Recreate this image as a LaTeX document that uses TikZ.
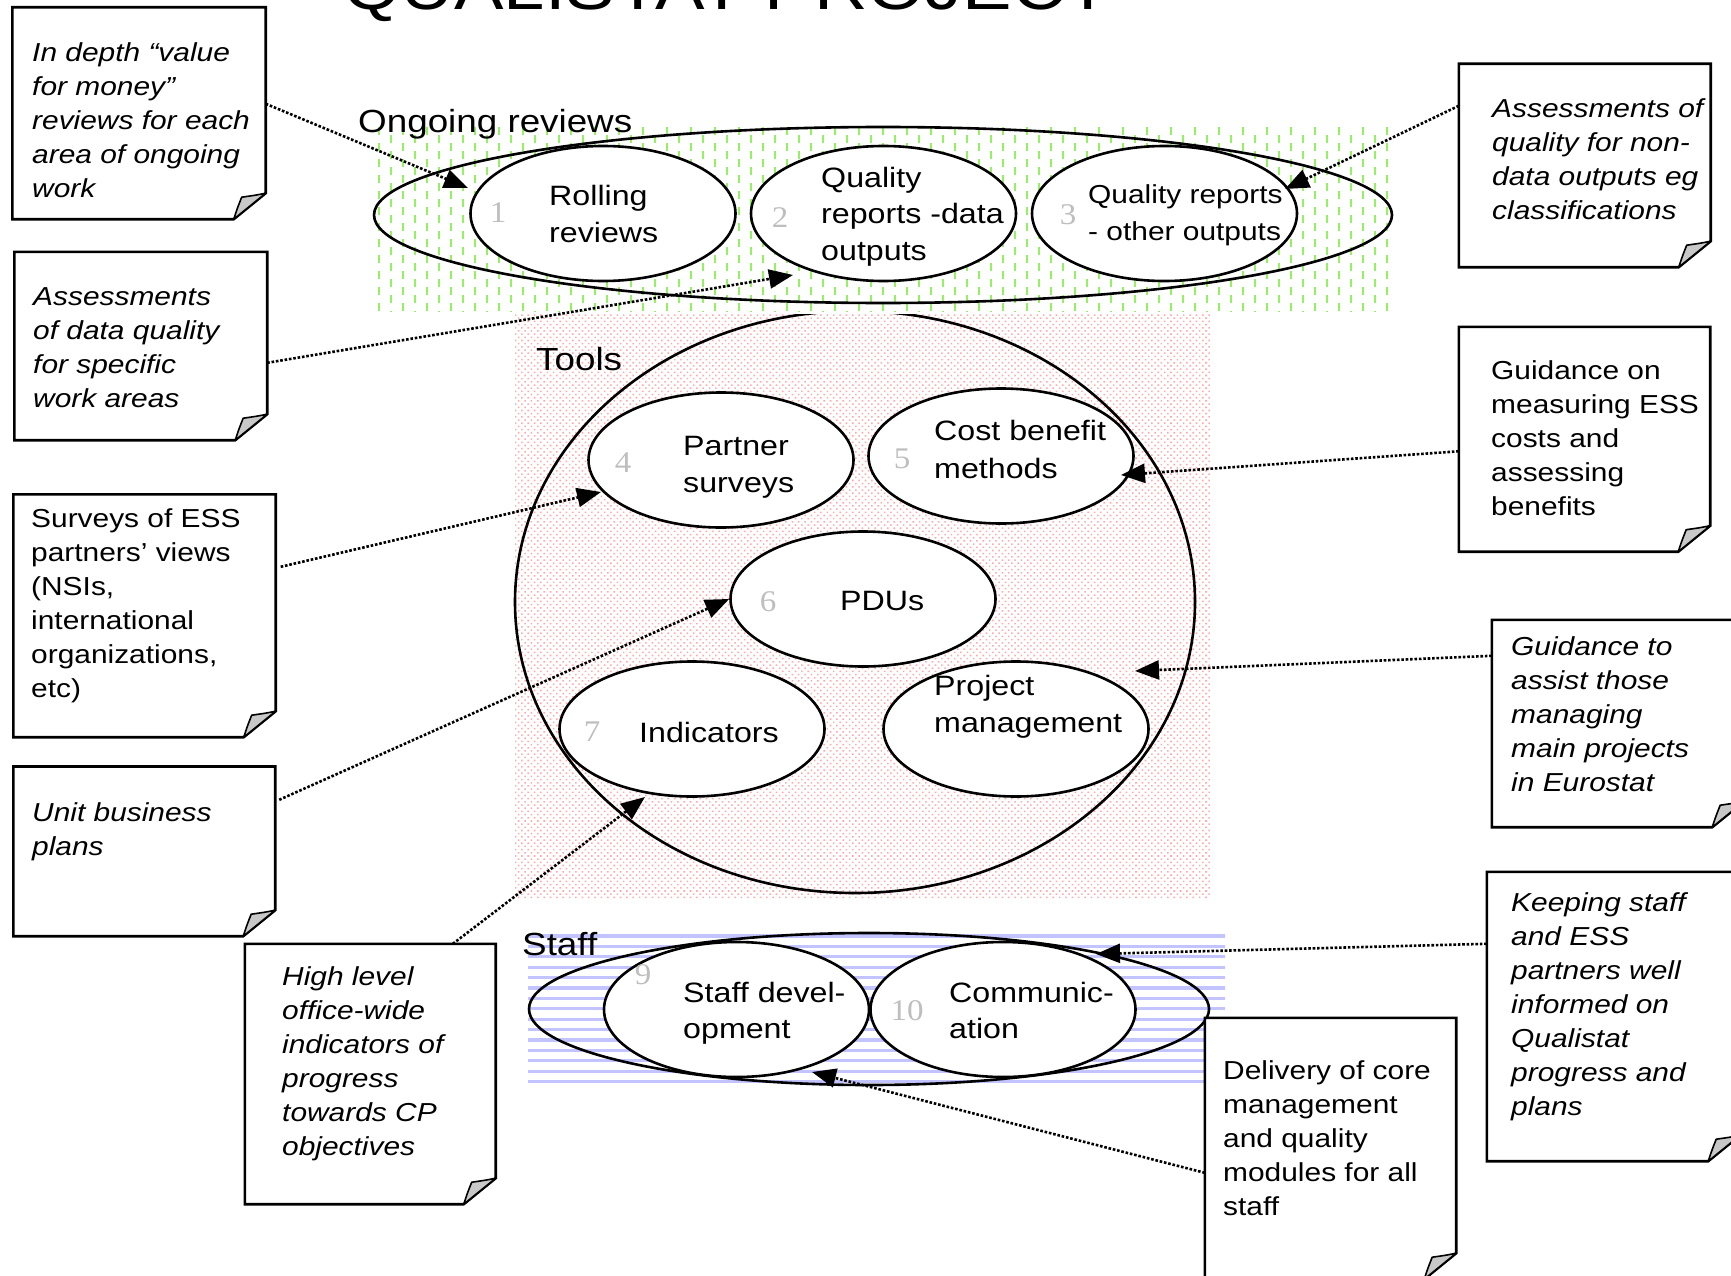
\documentclass[tikz,border=0pt]{standalone}
\usepackage{fontspec}
\setmainfont{Liberation Sans}[FakeStretch=1.15]
\newfontfamily\numfont{Liberation Serif}[FakeStretch=1.1]
\usetikzlibrary{shapes.geometric,arrows.meta,fit,patterns.meta}
\definecolor{hatchgreen}{RGB}{150,240,100}
\definecolor{dotpink}{RGB}{255,170,170}
\definecolor{stripeblue}{RGB}{195,195,255}
\definecolor{numgrey}{RGB}{190,190,190}
\definecolor{foldgrey}{RGB}{200,200,200}
\newcommand\topstrut[1]{\rule{0pt}{#1}}
\newcommand\notebox[5]{%
  \node[boxframe, fit={(#2,#3) (#4,#5)}] (#1) {};
  \path[boxline] (#1.north west) -- (#1.north east) -- ([yshift=26pt]#1.south east)
     -- ([xshift=-32pt]#1.south east) -- (#1.south west) -- cycle;
  \path[foldline] ([xshift=-32pt]#1.south east) -- ([yshift=26pt]#1.south east)
     .. controls ([shift={(-10pt,24pt)}]#1.south east) .. ([shift={(-24pt,22pt)}]#1.south east)
     .. controls ([shift={(-28pt,12pt)}]#1.south east) .. ([xshift=-32pt]#1.south east) -- cycle;
}
\begin{document}
\begin{tikzpicture}[x=1pt,y=-1pt,
  bubble/.style={ellipse, draw, line width=2.6pt, fill=white, minimum width=265pt, minimum height=135pt, inner sep=0pt},
  outline/.style={ellipse, draw, line width=2.6pt, inner sep=0pt},
  boxframe/.style={inner sep=0pt, draw=none},
  boxline/.style={draw, fill=white, line width=2.6pt, line join=miter},
  foldline/.style={draw, fill=foldgrey, line width=1.6pt, line join=round},
  conn/.style={line width=2.6pt, dash pattern=on 2.6pt off 1.8pt, -{Triangle[length=24pt,width=19pt]}},
  boxtext/.style={anchor=north west, inner sep=0pt, align=left, font=\fontsize{26}{34}\selectfont},
  boxit/.style={boxtext, font=\fontsize{26}{34}\selectfont\itshape},
  etext/.style={anchor=north west, inner sep=0pt, align=left, font=\fontsize{28}{37}\selectfont},
  num/.style={inner sep=0pt, text=numgrey, font=\numfont\fontsize{30}{30}\selectfont},
  regionlabel/.style={anchor=base west, inner sep=0pt, font=\fontsize{32}{36}\selectfont},
  greendash/.style={draw=hatchgreen, line width=1.8pt, dash pattern=on 8pt off 8pt},
  stripe/.style={draw=stripeblue, line width=3.2pt}
]
\useasboundingbox (0,0) rectangle (1731,1276);
\clip (0,0) rectangle (1731,1276);
\fill[white] (0,0) rectangle (1731,1276);

% title (cut off at the top)
\node[anchor=base west, inner sep=0pt, font=\fontsize{64.5}{70}\selectfont] (title) at (343,10) {QUALISTAT PROJECT};

% ---------- Tools ----------
\fill[pattern={Dots[distance=4.5pt, radius=1.1pt, angle=45]}, pattern color=dotpink] (515,313) rectangle (1210,898);
\node[bubble] (e4) at (721,460) {};
\node[bubble] (e5) at (1001,456) {};
\node[bubble] (e6) at (863,599) {};
\node[bubble] (e7) at (692,729) {};
\node[bubble] (e8) at (1016,729) {};
\node[outline, minimum width=680pt, minimum height=582pt] (tools) at (855,602) {};

% ---------- Ongoing reviews ----------
\fill[white] (374,126) rectangle (1392,313.5);
\foreach \i in {0,...,84} {
  \pgfmathsetmacro\xx{379+12*\i}
  \pgfmathsetmacro\ph{mod(\i,2)*8}
  \draw[greendash, dash phase=\ph pt] (\xx,127) -- (\xx,312);
}
\node[bubble] (e1) at (603,213.5) {};
\node[bubble] (e2) at (883.5,213.5) {};
\node[bubble] (e3) at (1164.5,213.5) {};
\node[outline, minimum width=1018pt, minimum height=176pt] (ongoing) at (883,215) {};

% ---------- Staff ----------
\foreach \i in {0,...,14} {
  \pgfmathsetmacro\yy{936+10.4*\i}
  \draw[stripe] (528,\yy) -- (1225,\yy);
}
\node[bubble] (e9) at (736.5,1009.5) {};
\node[bubble] (e10) at (1003,1009.5) {};
\node[outline, minimum width=680pt, minimum height=152pt] (staff) at (869,1009) {};

% numbers
\node[num] (n1) at (498,213) {1};
\node[num] (n2) at (780,218) {2};
\node[num] (n3) at (1068,215) {3};
\node[num] (n4) at (623,463) {4};
\node[num] (n5) at (902,459) {5};
\node[num] (n6) at (768,602) {6};
\node[num] (n7) at (592,732) {7};
\node[num] (n9) at (643,975) {9};
\node[num] (n10) at (907,1011) {10};

% ellipse texts
\node[etext] (l1) at (549,182) {\topstrut{23pt}Rolling\\reviews};
\node[etext, font=\fontsize{28}{36.5}\selectfont] (l2) at (821,164) {\topstrut{23pt}Quality\\reports -data\\outputs};
\node[etext, font=\fontsize{26}{37}\selectfont] (l3) at (1088,182) {\topstrut{21pt}Quality reports\\- other outputs};
\node[etext] (l4) at (683,432) {\topstrut{23pt}Partner\\surveys};
\node[etext, font=\fontsize{28}{38}\selectfont] (l5) at (934,417) {\topstrut{23pt}Cost benefit\\methods};
\node[etext] (l6) at (840,587) {\topstrut{23pt}PDUs};
\node[etext] (l7) at (639,719) {\topstrut{23pt}Indicators};
\node[etext, font=\fontsize{28}{37}\selectfont] (l8) at (934,672) {\topstrut{23pt}Project\\management};
\node[etext, font=\fontsize{28}{36}\selectfont] (l9) at (683,979) {\topstrut{23pt}Staff devel-\\opment};
\node[etext, font=\fontsize{28}{36}\selectfont] (l10) at (949,979) {\topstrut{23pt}Communic-\\ation};

% region labels
\node[regionlabel] (lab-ongoing) at (358,133) {Ongoing reviews};
\node[regionlabel] (lab-tools) at (536,370) {Tools};
\node[regionlabel] (lab-staff) at (522,955) {Staff};

% ---------- note boxes ----------
\notebox{b1}{12.5}{7.5}{265.5}{219}
\notebox{b2}{14.5}{252}{267}{440}
\notebox{b3}{13.5}{494.5}{275.5}{737}
\notebox{b4}{13.5}{766.7}{275}{936}
\notebox{b5}{245}{944}{495.5}{1204}
\notebox{b6}{1459}{64}{1710.5}{267}
\notebox{b7}{1459}{327}{1710}{551.5}
\notebox{b8}{1492}{620}{1744}{827}
\notebox{b9}{1487}{872}{1740}{1161}
\notebox{b10}{1205}{1018}{1456}{1279}

\node[boxit] (x1) at (32,39) {\topstrut{22pt}In depth “value\\for money”\\reviews for each\\area of ongoing\\work};
\node[boxit] (x2) at (33,283) {\topstrut{22pt}Assessments\\of data quality\\for specific\\work areas};
\node[boxtext] (x3) at (31,505) {\topstrut{22pt}Surveys of ESS\\partners’ views\\(NSIs,\\international\\organizations,\\etc)};
\node[boxit] (x4) at (32,799) {\topstrut{22pt}Unit business\\plans};
\node[boxit] (x5) at (282,963) {\topstrut{22pt}High level\\office-wide\\indicators of\\progress\\towards CP\\objectives};
\node[boxit] (x6) at (1492,95) {\topstrut{22pt}Assessments of\\quality for non-\\data outputs eg\\classifications};
\node[boxtext] (x7) at (1491,357) {\topstrut{22pt}Guidance on\\measuring ESS\\costs and\\assessing\\benefits};
\node[boxit] (x8) at (1511,633) {\topstrut{22pt}Guidance to\\assist those\\managing\\main projects\\in Eurostat};
\node[boxit] (x9) at (1511,889) {\topstrut{22pt}Keeping staff\\and ESS\\partners well\\informed on\\Qualistat\\progress and\\plans};
\node[boxtext] (x10) at (1223,1057) {\topstrut{22pt}Delivery of core\\management\\and quality\\modules for all\\staff};

% ---------- connectors ----------
\coordinate (tip1) at (468,188);
\coordinate (tip2) at (793,275);
\coordinate (tip3) at (601,492);
\coordinate (tip5) at (645,797);
\coordinate (tip6) at (1285,189);
\coordinate (tip7) at (1121,475);
\coordinate (tip8) at (1135,671);
\coordinate (tip9) at (1096,954);
\coordinate (tip10) at (812,1072);

\draw[conn] ([yshift=-96.5pt]b1.north east) -- (tip1);
\draw[conn] ([yshift=-111pt]b2.north east) -- (tip2);
\draw[conn] ([xshift=5pt,yshift=-72.5pt]b3.north east) -- (tip3);
\draw[conn] ([xshift=4pt,yshift=-33.3pt]b4.north east) -- (e6.west);
\draw[conn] ([xshift=208pt]b5.north west) -- (tip5);
\draw[conn] ([yshift=-42pt]b6.north west) -- (tip6);
\draw[conn] ([yshift=-124.5pt]b7.north west) -- (tip7);
\draw[conn] ([yshift=-36pt]b8.north west) -- (tip8);
\draw[conn] ([yshift=-72pt]b9.north west) -- (tip9);
\draw[conn] ([yshift=-155pt]b10.north west) -- (tip10);
\end{tikzpicture}
\end{document}
